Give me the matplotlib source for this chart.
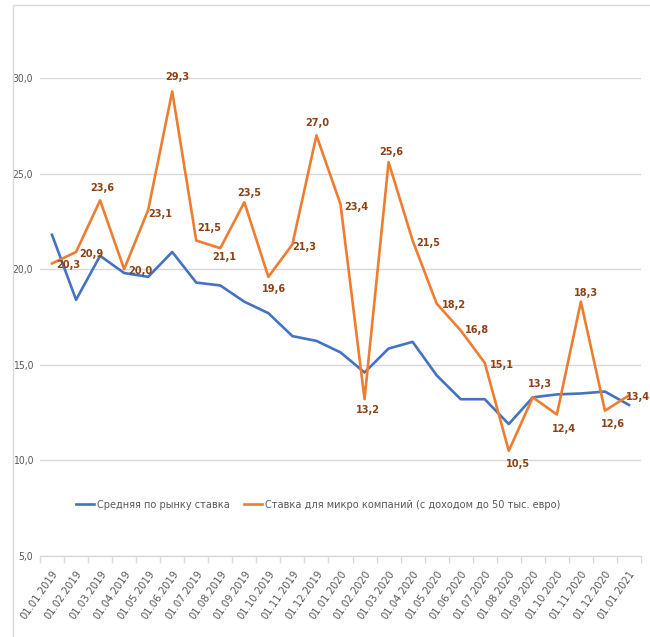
import matplotlib
matplotlib.use("Agg")
import matplotlib.pyplot as plt
from matplotlib.patches import Rectangle
from matplotlib import font_manager

dates = ["01.01.2019", "01.02.2019", "01.03.2019", "01.04.2019", "01.05.2019",
         "01.06.2019", "01.07.2019", "01.08.2019", "01.09.2019", "01.10.2019",
         "01.11.2019", "01.12.2019", "01.01.2020", "01.02.2020", "01.03.2020",
         "01.04.2020", "01.05.2020", "01.06.2020", "01.07.2020", "01.08.2020",
         "01.09.2020", "01.10.2020", "01.11.2020", "01.12.2020", "01.01.2021"]

market_avg = [21.8, 18.4, 20.7, 19.8, 19.6, 20.9, 19.3, 19.15, 18.3, 17.7,
              16.5, 16.25, 15.65, 14.6, 15.85, 16.2, 14.45, 13.2, 13.2, 11.9,
              13.3, 13.45, 13.5, 13.6, 12.9]

micro = [20.3, 20.9, 23.6, 20.0, 23.1, 29.3, 21.5, 21.1, 23.5, 19.6,
         21.3, 27.0, 23.4, 13.2, 25.6, 21.5, 18.2, 16.8, 15.1, 10.5,
         13.3, 12.4, 18.3, 12.6, 13.4]

series_names = ["Средняя по рынку ставка",
                "Ставка для микро компаний (с доходом до 50 тыс. евро)"]

y_ticks = [5, 10, 15, 20, 25, 30]

# label offsets (pixels) relative to each point (style only)
label_offsets = [(16, -2), (15, -2), (2, 12), (16, -2), (12, -4), (5, 14),
                 (13, 13), (4, -9), (5, 9), (6, -12), (12, -3), (1, 12),
                 (16, -3), (3, -11), (3, 10), (16, -2), (17, -1), (16, 0),
                 (17, -2), (9, -13), (7, 13), (7, -14), (5, 9), (8, -13),
                 (9, -2)]

names = {f.name for f in font_manager.fontManager.ttflist}
fam = ["Liberation Sans Narrow", "DejaVu Sans"] if "Liberation Sans Narrow" in names else ["DejaVu Sans"]
stretch = "normal" if "Liberation Sans Narrow" in names else "condensed"
plt.rcParams["font.family"] = fam
plt.rcParams["font.stretch"] = stretch

BLUE = "#4472C4"
ORANGE = "#ED7D31"
LABEL = "#8B4215"
GRID = "#D9D9D9"
TXT = "#595959"

W, H = 650, 637
fig = plt.figure(figsize=(6.5, 6.37), dpi=100)
fig.patch.set_facecolor("white")

# chart area border (partially visible)
fig.patches.append(Rectangle((13 / W, -0.05), 1.1, 1 - 5 / H + 0.05,
                             transform=fig.transFigure, fill=False,
                             edgecolor=GRID, linewidth=1.0))

left, right = 40 / W, 641 / W
bottom, top = 1 - 556 / H, 1 - 78 / H
ax = fig.add_axes([left, bottom, right - left, top - bottom])
ax.set_facecolor("none")

x = list(range(len(dates)))
ax.plot(x, market_avg, color=BLUE, lw=1.9, solid_joinstyle="round", label=series_names[0], zorder=3)
ax.plot(x, micro, color=ORANGE, lw=1.9, solid_joinstyle="round", label=series_names[1], zorder=3)

for xi, v, (dx, dy) in zip(x, micro, label_offsets):
    ax.annotate(f"{v:.1f}".replace(".", ","), (xi, v), xytext=(dx, dy),
                textcoords="offset pixels", ha="center", va="center",
                fontsize=7.8, fontweight="bold", color=LABEL, zorder=4,
                annotation_clip=False)

ax.set_xlim(-0.5, len(dates) - 0.5)
ax.set_ylim(5, 30)
ax.set_yticks(y_ticks)
ax.set_yticklabels([f"{t:.1f}".replace(".", ",") for t in y_ticks])
ax.yaxis.grid(True, color=GRID, lw=1.0)
ax.set_axisbelow(True)
for s in ["top", "right", "left"]:
    ax.spines[s].set_visible(False)
ax.spines["bottom"].set_color(GRID)
ax.spines["bottom"].set_linewidth(1.0)
ax.tick_params(axis="y", length=0, pad=5, labelsize=7.5, labelcolor=TXT)

# category boundaries ticks
ax.set_xticks([i - 0.5 for i in range(len(dates) + 1)], minor=False)
ax.set_xticklabels([""] * (len(dates) + 1))
ax.tick_params(axis="x", which="major", length=5, color=GRID, width=1.0)
ax.set_xticks(x, minor=True)
ax.set_xticklabels(dates, minor=True, rotation=55, ha="right", va="top",
                   rotation_mode="anchor")
ax.tick_params(axis="x", which="minor", length=0, pad=9, labelsize=8, labelcolor=TXT)

fig.legend(loc="center", bbox_to_anchor=(318 / W, 1 - 505 / H), ncol=2,
           frameon=False, fontsize=7.8, handlelength=1.7, handletextpad=0.25,
           columnspacing=1.3, labelcolor=TXT)

fig.savefig("out.png", dpi=100, facecolor="white")
